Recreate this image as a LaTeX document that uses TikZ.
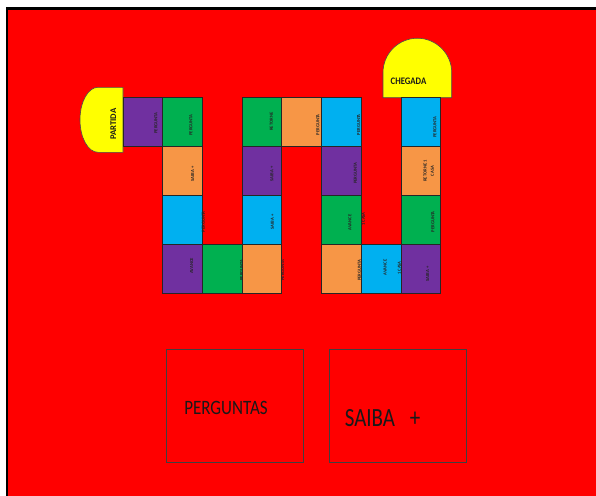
\documentclass[tikz,border=0pt]{standalone}
\usepackage{fontspec}
\setmainfont{Carlito}
\definecolor{bred}{HTML}{FF0000}
\definecolor{cpurple}{HTML}{7030A0}
\definecolor{cgreen}{HTML}{00B050}
\definecolor{corange}{HTML}{F79646}
\definecolor{cblue}{HTML}{00B0F0}
\definecolor{cyellow}{HTML}{FFFF00}
\begin{document}
\begin{tikzpicture}[x=1pt,y=-1pt,
  cell/.style={draw=black!85, line width=0.7pt, minimum width=39.7pt, minimum height=48.8pt, inner sep=0pt, outer sep=0pt},
  tiny/.style={font=\fontsize{4.6}{7.3}\selectfont\bfseries, rotate=90, inner sep=0pt, text=black!85, align=center},
  endshape/.style={fill=cyellow, draw=black!70, line width=0.6pt},
  endlabel/.style={font=\fontsize{8.7}{10}\selectfont\bfseries, inner sep=0pt, text=black!90},
  infobox/.style={draw=black!75, line width=0.8pt, minimum width=136.6pt, minimum height=112.7pt, inner sep=0pt},
  boxlabel/.style={inner sep=0pt, text=black!90}]
\useasboundingbox (0,0) rectangle (596,495);
\fill[white] (0,0) rectangle (596,495);
\begin{scope}
  \clip (0,0) rectangle (596,495);
  \draw[line width=2.5pt, fill=bred] (7.2,8.7) rectangle (620,520);
\end{scope}

% start and finish
\path[endshape] (123,87.3) -- (98,87.3) arc[start angle=90, end angle=270, x radius=18pt, y radius=32.5pt] -- (123,152.3) -- cycle;
\node[endlabel, rotate=90] (partida) at (113.3,124.3) {PARTIDA};
\path[endshape] (383,97.7) -- (383,72.6) arc[start angle=180, end angle=0, radius=34.35pt] -- (451.7,97.7) -- cycle;
\node[endlabel] (chegada) at (408.5,81.7) {\scalebox{1}[1.15]{CHEGADA}};

% board cells
\node[cell, fill=cpurple] (c11) at (142.85,122.2) {};
\node[cell, fill=cgreen]  (c21) at (182.55,122.2) {};
\node[cell, fill=cgreen]  (c41) at (261.95,122.2) {};
\node[cell, fill=corange] (c51) at (301.65,122.2) {};
\node[cell, fill=cblue]   (c61) at (341.35,122.2) {};
\node[cell, fill=cblue]   (c81) at (420.75,122.2) {};

\node[cell, fill=corange] (c22) at (182.55,171) {};
\node[cell, fill=cpurple] (c42) at (261.95,171) {};
\node[cell, fill=cpurple] (c62) at (341.35,171) {};
\node[cell, fill=corange] (c82) at (420.75,171) {};

\node[cell, fill=cblue]   (c23) at (182.55,219.8) {};
\node[cell, fill=cblue]   (c43) at (261.95,219.8) {};
\node[cell, fill=cgreen]  (c63) at (341.35,219.8) {};
\node[cell, fill=cgreen]  (c83) at (420.75,219.8) {};

\node[cell, fill=cpurple] (c24) at (182.55,268.6) {};
\node[cell, fill=cgreen]  (c34) at (222.25,268.6) {};
\node[cell, fill=corange] (c44) at (261.95,268.6) {};
\node[cell, fill=corange] (c64) at (341.35,268.6) {};
\node[cell, fill=cblue]   (c74) at (381.05,268.6) {};
\node[cell, fill=cpurple] (c84) at (420.75,268.6) {};

% cell texts
\node[tiny] (t11) at (156,123) {PERGUNTA};
\node[tiny] (t21) at (191,125) {PERGUNTA};
\node[tiny] (t41) at (271.3,121.7) {RETORNE};
\node[tiny] (t51) at (318,124.7) {PERGUNTA};
\node[tiny] (t61) at (358.7,124.7) {PERGUNTA};
\node[tiny] (t81) at (435,127) {PERGUNTA};
\node[tiny] (t22) at (192.7,174) {SAIBA +};
\node[tiny] (t42) at (272,174) {SAIBA +};
\node[tiny] (t62) at (355.3,173.3) {PERGUNTA};
\node[tiny] (t82) at (428.7,171) {RETORNE 1\\CASA};
\node[tiny] (t23) at (203.3,221.7) {PERGUNTA};
\node[tiny] (t43) at (272.3,222) {SAIBA +};
\node[tiny] (t63a) at (350,222.5) {AVANCE};
\node[tiny] (t63b) at (363.3,219) {1 CASA};
\node[tiny] (t83) at (433,221.7) {PERGUNTA};
\node[tiny] (t24) at (191.7,266) {AVANCE};
\node[tiny] (t34) at (241.7,270) {PERGUNTA};
\node[tiny] (t44) at (282.7,270) {PERGUNTA};
\node[tiny] (t64) at (359.3,270.5) {PERGUNTA};
\node[tiny] (t74a) at (385,267.5) {AVANCE};
\node[tiny] (t74b) at (399.3,268) {1 CASA};
\node[tiny] (t84) at (427.7,274) {SAIBA +};

% card boxes
\node[infobox] (perguntasbox) at (235,405.7) {};
\node[infobox] (saibabox) at (397.7,405.7) {};
\node[boxlabel, font=\fontsize{17}{20}\selectfont] (perguntas) at (226,408) {\scalebox{1}[1.2]{PERGUNTAS}};
\node[boxlabel, font=\fontsize{21}{24}\selectfont] (saiba) at (382.5,418) {\scalebox{1}[1.25]{SAIBA\hspace{0.7em}+}};
\end{tikzpicture}
\end{document}
